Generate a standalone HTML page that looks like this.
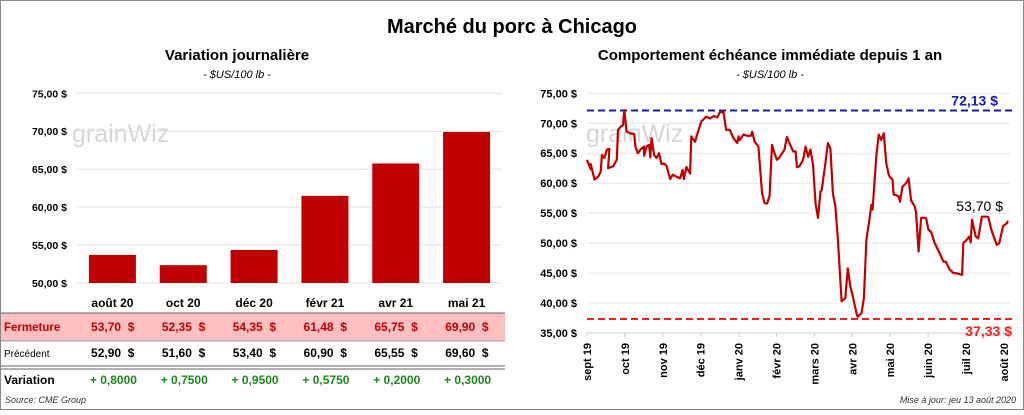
<!DOCTYPE html>
<html><head><meta charset="utf-8">
<style>
body{margin:0;width:1024px;height:410px;overflow:hidden;background:#fff;font-family:"Liberation Sans",sans-serif;}
svg text{font-family:"Liberation Sans",sans-serif;}
</style></head>
<body>
<svg id="c" width="1024" height="410" xmlns="http://www.w3.org/2000/svg">
<rect x="0.5" y="0.5" width="1023" height="409" fill="#fff" stroke="#888"/>
<text x="512" y="33" text-anchor="middle" font-size="20" font-weight="bold">Marché du porc à Chicago</text>
<text x="237" y="60" text-anchor="middle" font-size="15" font-weight="bold">Variation  journalière</text>
<text x="237" y="78" text-anchor="middle" font-size="11" font-style="italic">- $US/100 lb -</text>
<text x="770" y="60" text-anchor="middle" font-size="15" font-weight="bold">Comportement  échéance immédiate depuis 1 an</text>
<text x="770" y="78" text-anchor="middle" font-size="11" font-style="italic">- $US/100 lb -</text>
<text x="72" y="142" font-size="25" fill="#d6d6d6">grainWiz</text>
<text x="586" y="142" font-size="25" fill="#d6d6d6">grainWiz</text>
<g id="left"></g><g id="table"></g><g id="right"></g>
<text x="5" y="403" font-size="9" font-style="italic" fill="#333">Source: CME Group</text>
<text x="1016" y="403" text-anchor="end" font-size="9" font-style="italic" fill="#333">Mise à jour: jeu 13 août 2020</text>
</svg>
<script>
const categories=["août 20","oct 20","déc 20","févr 21","avr 21","mai 21"];
const closeVals=[53.70,52.35,54.35,61.48,65.75,69.90];
const prevVals=[52.90,51.60,53.40,60.90,65.55,69.60];
const varVals=["+ 0,8000","+ 0,7500","+ 0,9500","+ 0,5750","+ 0,2000","+ 0,3000"];
const leftTicks=[50,55,60,65,70,75];
const rightTicks=[35,40,45,50,55,60,65,70,75];
const months=["sept 19","oct 19","nov 19","déc 19","janv 20","févr 20","mars 20","avr 20","mai 20","juin 20","juil 20","août 20"];
const days=[0,3,3,6,9,11,12,14,16,18,17,21,24,25,27,29,30,32,35,38,39,41,43,46,46,48,50,51,52,54,56,58,60,62,64,67,69,72,75,77,78,80,83,84,87,89,92,94,96,99,102,105,107,110,112,115,118,121,122,123,126,129,132,133,135,138,141,143,145,147,149,151,153,155,159,161,163,166,168,169,171,174,176,178,180,182,184,186,188,189,192,194,196,198,200,202,205,208,210,212,214,217,218,221,223,225,227,229,230,233,235,237,239,241,243,244,246,247,248,251,252,254,257,259,261,264,265,267,269,273,275,277,280,284,287,289,292,295,297,302,303,306,308,309,310,313,315,318,320,323,326,327,330,332,335,338,339];
const prices=[63.9,62.3,63.2,60.6,61.1,61.9,64.7,64.2,65.6,65.7,62.5,62.8,63.9,68.9,69.4,69.7,72.2,68.6,68.3,68.2,66.1,65.0,65.6,66.1,64.6,66.1,66.4,64.3,67.5,64.7,64.2,65.0,63.2,63.3,62.9,60.7,61.4,61.1,60.8,62.2,60.7,62.7,61.6,67.8,66.9,68.3,70.3,70.7,71.1,70.8,71.2,71.0,71.9,71.8,68.9,68.9,67.5,66.7,67.8,67.2,68.1,67.9,67.9,68.6,66.9,66.1,58.3,56.7,56.6,57.9,66.4,65.0,63.9,64.3,65.6,67.7,66.7,65.3,65.3,62.7,62.8,63.9,66.1,64.4,65.6,63.1,56.7,54.2,58.6,58.9,63.3,66.7,65.8,58.3,56.1,50.6,40.3,40.8,45.8,42.8,41.1,38.3,37.7,38.3,40.8,50.6,53.3,56.4,55.6,64.7,68.1,67.2,68.3,63.3,61.4,61.0,60.6,58.1,58.1,57.8,56.9,59.4,60.0,60.8,57.1,56.1,55.0,48.6,54.2,54.2,52.2,51.9,50.0,48.3,46.9,46.9,45.6,45.0,45.0,44.7,50.0,50.6,51.1,50.1,53.9,51.1,50.8,54.4,54.4,54.4,51.9,51.4,49.7,50.0,52.8,53.3,53.7];
const highVal=72.13, lowVal=37.33, lastVal=53.70;

const NS="http://www.w3.org/2000/svg";
function mk(parent,tag,attrs,txt){const e=document.createElementNS(NS,tag);for(const k in attrs)e.setAttribute(k,attrs[k]);if(txt!==undefined)e.textContent=txt;parent.appendChild(e);return e;}
const fmt=v=>v.toFixed(2).replace('.',',');

const L=document.getElementById('left');
const lx0=77,lx1=502,ly=v=>283-(v-50)*(283-93.3)/25;
const bw=(lx1-lx0)/categories.length;
const lcx=i=>lx0+bw*(i+0.5);
leftTicks.forEach(t=>{
  const g=mk(L,'line',{x1:lx0,x2:lx1,y1:ly(t),y2:ly(t),stroke:'#e0e0e0'});
  
  
  const tx=mk(L,'text',{x:67,y:ly(t)+4,'text-anchor':'end','font-size':10.5,'font-weight':'bold'},fmt(t)+' $');
  
  
});
closeVals.forEach((v,i)=>{
  const r=mk(L,'rect',{x:lcx(i)-23.5,y:ly(v),width:47,height:ly(50)-ly(v),fill:'#c00000'});
  
  
});

const T=document.getElementById('table');
mk(T,'rect',{x:1,y:313,width:504,height:28,fill:'#ffbfbf'});
mk(T,'line',{x1:1,x2:505,y1:313,y2:313,stroke:'#666'});
mk(T,'line',{x1:1,x2:505,y1:341,y2:341,stroke:'#999'});
mk(T,'line',{x1:1,x2:505,y1:366,y2:366,stroke:'#666'});
mk(T,'line',{x1:1,x2:505,y1:369,y2:369,stroke:'#666'});
const lab1=mk(T,'text',{x:4,y:331,'font-size':11.5,'font-weight':'bold',fill:'#c00000'},'Fermeture');

const lab2=mk(T,'text',{x:4,y:357,'font-size':10},'Précédent');

const lab3=mk(T,'text',{x:4,y:384,'font-size':12,'font-weight':'bold'},'Variation');

categories.forEach((c,i)=>{
  const x=lcx(i);
  const h=mk(T,'text',{x:x,y:307,'text-anchor':'middle','font-size':12,'font-weight':'bold'},c);
  
  const a=mk(T,'text',{x:x+22,y:331,'text-anchor':'end','font-size':12,'font-weight':'bold',fill:'#c00000'},fmt(closeVals[i])+'  $');
  a.style.whiteSpace='pre';
  const b=mk(T,'text',{x:x+22,y:357,'text-anchor':'end','font-size':12,'font-weight':'bold'},fmt(prevVals[i])+'  $');
  b.style.whiteSpace='pre';
  const d=mk(T,'text',{x:x+1,y:384,'text-anchor':'middle','font-size':12,'font-weight':'bold',fill:'#1a8a1a'},varVals[i]);
  
});

const R=document.getElementById('right');
const rx0=587,rx1=1008,maxDay=339;
const rx=d=>rx0+d*(rx1-rx0)/maxDay;
const ry=v=>333-(v-35)*(333-93.3)/40;
rightTicks.forEach(t=>{
  const g=mk(R,'line',{x1:rx0,x2:1010,y1:ry(t),y2:ry(t),stroke:t==35?'#ccc':'#e5e5e5'});
  
  const tx=mk(R,'text',{x:577,y:ry(t)+4,'text-anchor':'end','font-size':11,'font-weight':'bold'},fmt(t)+' $');
  
});
months.forEach((m,i)=>{
  const x=587+i*37.9;
  mk(R,'line',{x1:x,x2:x,y1:333,y2:337,stroke:'#ccc'});
  const t=mk(R,'text',{x:0,y:0,'text-anchor':'end','font-size':11,'font-weight':'bold',transform:`translate(${x+4},${343}) rotate(-90)`},m);
  
});
const hl=mk(R,'line',{x1:rx0,x2:1012,y1:ry(highVal),y2:ry(highVal),stroke:'#1a1ab0','stroke-width':2,'stroke-dasharray':'7,4'});

const ll=mk(R,'line',{x1:rx0,x2:1012,y1:ry(lowVal),y2:ry(lowVal),stroke:'#ff1a1a','stroke-width':2,'stroke-dasharray':'7,4'});

const ht=mk(R,'text',{x:998,y:ry(highVal)-5,'text-anchor':'end','font-size':14,'font-weight':'bold',fill:'#1a1ab0'},fmt(highVal)+' $');

const lt=mk(R,'text',{x:1012,y:ry(lowVal)+17,'text-anchor':'end','font-size':14,'font-weight':'bold',fill:'#ff1a1a'},fmt(lowVal)+' $');

const pts=days.map((d,i)=>rx(d).toFixed(1)+','+ry(prices[i]).toFixed(1)).join(' ');
const pl=mk(R,'polyline',{points:pts,fill:'none',stroke:'#c00000','stroke-width':2.2,'stroke-linejoin':'round'});

const lst=mk(R,'text',{x:1003,y:ry(lastVal)-10,'text-anchor':'end','font-size':14},fmt(lastVal)+' $');

</script>
</body></html>
